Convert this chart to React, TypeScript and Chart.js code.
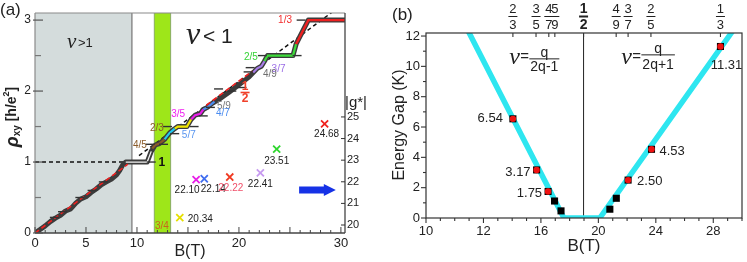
import React, { useEffect, useRef } from "react";
import { Chart, registerables } from "chart.js";

Chart.register(...registerables);

// ================= Panel (a): rho_xy vs B =================
const traceB = [0, 0.5, 1, 1.5, 2, 2.5, 3, 3.5, 4, 4.5, 5, 5.5, 6, 6.5, 7, 7.5, 8, 8.3, 8.6, 8.9, 11.0, 11.4, 11.8, 12.2, 12.7, 13.2, 13.7, 14.0, 14.9, 15.3, 15.7, 16.2, 16.5, 16.9, 17.3, 18.0, 19.0, 20.0, 21.0, 21.4, 21.8, 22.2, 22.5, 22.8, 25.3, 25.6, 26.8, 30.4];
const traceRho = [0, 0.05, 0.1, 0.16, 0.21, 0.25, 0.31, 0.34, 0.42, 0.48, 0.51, 0.57, 0.62, 0.68, 0.72, 0.76, 0.82, 0.88, 0.96, 1.0, 1.0, 1.15, 1.24, 1.26, 1.32, 1.41, 1.47, 1.5, 1.5, 1.6, 1.66, 1.68, 1.74, 1.77, 1.82, 1.88, 1.98, 2.09, 2.2, 2.26, 2.32, 2.35, 2.42, 2.5, 2.5, 2.66, 3.0, 3.0];

const seg1B = [8.9, 11.0, 11.4];
const seg1R = [1.0, 1.0, 1.15];
const seg45B = [11.5, 11.8, 12.2, 12.7];
const seg45R = [1.19, 1.24, 1.26, 1.32];
const seg57B = [12.7, 13.2, 13.7];
const seg57R = [1.32, 1.41, 1.47];
const seg23B = [13.7, 14.0, 14.9, 15.3];
const seg23R = [1.47, 1.5, 1.5, 1.6];
const seg35B = [15.3, 15.7, 16.2, 16.5];
const seg35R = [1.6, 1.66, 1.68, 1.74];
const seg47B = [16.5, 16.9, 17.6];
const seg47R = [1.74, 1.77, 1.85];
const seg37B = [21.4, 21.8, 22.2, 22.5];
const seg37R = [2.26, 2.32, 2.35, 2.42];
const seg25B = [22.5, 22.8, 25.3, 25.6];
const seg25R = [2.42, 2.5, 2.5, 2.66];
const seg13B = [25.6, 26.8, 30.4];
const seg13R = [2.66, 3.0, 3.0];

const classicB = [10.2, 29.4];
const classicRho = [1.09, 3.14];
const halfDashB = [16.8, 21.3];
const halfDashRho = [1.8, 2.28];
const lowDashB = [0, 9.1];
const lowDashRho = [0, 0.97];
const unityB = [0, 9.2];
const unityRho = [1, 1];

const markB = [1.9, 2.7, 4.4, 5.6, 6.7, 11.4, 11.3, 12.6, 13.7, 13.0, 15.6, 16.5, 17.2, 18.0, 19.3, 20.3, 20.9, 21.1, 22.3, 25.7, 26.1];
const markRho = [0.22, 0.3, 0.5, 0.6, 0.72, 1.0, 1.25, 1.25, 1.4, 1.5, 1.5, 1.65, 1.77, 2.03, 2.0, 2.05, 2.27, 2.33, 2.5, 2.5, 3.0];

const gB = [14.2, 15.8, 16.6, 19.1, 22.1, 23.7, 28.4];
const gVal = [20.34, 22.10, 22.14, 22.22, 22.41, 23.51, 24.68];
const gLabels = ["20.34", "22.10", "22.14", "22.22", "22.41", "23.51", "24.68"];
const gColors = ["#e6e000", "#e81ee8", "#3f6df0", "#f03a22", "#c79af0", "#2ed62e", "#f0221e"];

const arrowB = [25.9, 29.5];
const arrowG = 21.62;

const nuGt1Region = [0, 9.5];
const greenBand = [11.7, 13.3];

const xTicksA = [0, 5, 10, 20, 30];
const yTicksA = [0, 1, 2, 3];
const y2TicksA = [20, 21, 22, 23, 24, 25];

// ================= Panel (b): energy gap vs B =================
const gapB = [14.05, 15.7, 16.5, 16.95, 17.4, 20.8, 21.25, 22.07, 23.7, 28.5];
const gapE = [6.54, 3.17, 1.75, 1.12, 0.47, 0.58, 1.3, 2.5, 4.53, 11.31];
const labeledB = [14.05, 15.7, 16.5, 22.07, 23.7, 28.5];
const labeledE = [6.54, 3.17, 1.75, 2.5, 4.53, 11.31];
const gapLabels = ["6.54", "3.17", "1.75", "2.50", "4.53", "11.31"];
const fitB = [10.9, 17.6, 20.1, 29.4];
const fitE = [12.4, 0, 0, 12.4];
const halfB = 18.97;
const fracB = [14.05, 15.66, 16.55, 16.97, 18.97, 21.24, 22.07, 23.66, 28.5];
const fracNum = ["2", "3", "4", "5", "1", "4", "3", "2", "1"];
const fracDen = ["3", "5", "7", "9", "2", "9", "7", "5", "3"];
const xTickValsB = [8, 12, 16, 20, 24, 28];
const xTickLabelsB = ["10", "12", "16", "20", "24", "28"];
const yTicksB = [0, 2, 4, 6, 8, 10, 12];

// ================= helpers =================
const SANS = '"Liberation Sans", Arial, Helvetica, sans-serif';
const SERIF = '"Liberation Serif", "Times New Roman", serif';
type Ctx = CanvasRenderingContext2D;

const pts = (xs: number[], ys: number[]) => xs.map((x, i) => ({ x, y: ys[i] }));

function text(ctx: Ctx, s: string, x: number, y: number, font: string, color: string, align: CanvasTextAlign = "center", base: CanvasTextBaseline = "middle") {
  ctx.font = font;
  ctx.fillStyle = color;
  ctx.textAlign = align;
  ctx.textBaseline = base;
  ctx.fillText(s, x, y);
}
function seg(ctx: Ctx, x1: number, y1: number, x2: number, y2: number, color: string, w: number) {
  ctx.beginPath();
  ctx.strokeStyle = color;
  ctx.lineWidth = w;
  ctx.moveTo(x1, y1);
  ctx.lineTo(x2, y2);
  ctx.stroke();
}
const lineDs = (xs: number[], ys: number[], color: string, width: number, order: number, extra: any = {}) => ({
  data: pts(xs, ys),
  borderColor: color,
  borderWidth: width,
  pointRadius: 0,
  fill: false,
  tension: 0,
  order,
  ...extra,
});

// fraction labels on panel (a): [text, B, rho, color, align]
const fracLabelsA: [string, number, number, string, CanvasTextAlign][] = [
  ["1/3", 25.2, 3.0, "#f22e2e", "right"],
  ["2/5", 21.86, 2.48, "#36d336", "right"],
  ["3/7", 23.2, 2.31, "#9b6ee6", "left"],
  ["4/9", 22.35, 2.24, "#6e6e6e", "left"],
  ["5/9", 17.85, 1.79, "#777777", "left"],
  ["4/7", 17.75, 1.69, "#4b8cf0", "left"],
  ["3/5", 13.35, 1.676, "#f01ef0", "left"],
  ["2/3", 11.27, 1.48, "#8a5a28", "left"],
  ["5/7", 14.4, 1.38, "#5a96f0", "left"],
  ["4/5", 9.6, 1.24, "#8a5a28", "left"],
  ["3/4", 11.76, 0.1, "#c8641e", "left"],
];

const panelAPlugin = {
  id: "panelA",
  beforeDatasetsDraw(chart: any) {
    const { ctx, chartArea: a, scales } = chart;
    const sx = scales.x;
    ctx.save();
    const g0 = sx.getPixelForValue(nuGt1Region[0]);
    const g1 = sx.getPixelForValue(nuGt1Region[1]);
    ctx.fillStyle = "#d4dcdc";
    ctx.fillRect(g0, a.top, g1 - g0, a.bottom - a.top);
    seg(ctx, g1, a.top, g1, a.bottom, "#8c8c8c", 1.5);
    const b0 = sx.getPixelForValue(greenBand[0]);
    const b1 = sx.getPixelForValue(greenBand[1]);
    ctx.fillStyle = "#9ee619";
    ctx.fillRect(b0, a.top, b1 - b0, a.bottom - a.top);
    seg(ctx, b0, a.top, b0, a.bottom, "#7a9a60", 0.8);
    seg(ctx, b1, a.top, b1, a.bottom, "#7a9a60", 0.8);
    ctx.restore();
  },
  afterDraw(chart: any) {
    const { ctx, chartArea: a, scales } = chart;
    const sx = scales.x, sy = scales.y, sy2 = scales.y2;
    ctx.save();
    // frame
    seg(ctx, a.left, a.top, a.right, a.top, "#8a8a8a", 1.2);
    seg(ctx, a.left, a.top, a.left, a.bottom, "#8a8a8a", 1.2);
    seg(ctx, a.left, a.bottom, a.right, a.bottom, "#444", 1.3);
    seg(ctx, a.right, a.top, a.right, a.bottom, "#444", 1.3);
    // x ticks
    for (let v = 0; v <= 30; v++) {
      const px = sx.getPixelForValue(v);
      const major = v % 5 === 0;
      seg(ctx, px, a.bottom, px, a.bottom - (major ? 6 : 3), "#444", 1);
    }
    xTicksA.forEach((v) => text(ctx, String(v), sx.getPixelForValue(v), a.bottom + 10, `13px ${SANS}`, "#222"));
    // y ticks
    yTicksA.forEach((v) => {
      const py = sy.getPixelForValue(v);
      seg(ctx, a.left - 2, py, a.left + 8, py, "#555", 1.2);
      text(ctx, String(v), a.left - 4, py, `12px ${SANS}`, "#222", "right");
    });
    [0.5, 1.5, 2.5].forEach((v) => {
      const py = sy.getPixelForValue(v);
      seg(ctx, a.left, py, a.left + 6, py, "#777", 1.2);
    });
    // y2 ticks
    y2TicksA.forEach((v) => {
      const py = sy2.getPixelForValue(v);
      seg(ctx, a.right - 4, py, a.right, py, "#333", 1);
      text(ctx, String(v), a.right + 2, py, `11px ${SANS}`, "#222", "left");
    });
    text(ctx, "|g*|", a.right, 103, `15px ${SANS}`, "#222", "left");
    // axis titles
    text(ctx, "B(T)", (a.left + a.right) / 2, 252, `16px ${SANS}`, "#222");
    ctx.save();
    ctx.translate(12, 117);
    ctx.rotate(-Math.PI / 2);
    const f1 = `bold italic 18px ${SANS}`, f2 = `bold 10px ${SANS}`, f3 = `bold 14px ${SANS}`, f4 = `bold 9px ${SANS}`;
    ctx.font = f1; const w1 = ctx.measureText("\u03c1").width;
    ctx.font = f2; const w2 = ctx.measureText("xy").width;
    ctx.font = f3; const w3 = ctx.measureText(" [h/e").width;
    ctx.font = f4; const w4 = ctx.measureText("2").width;
    ctx.font = f3; const w5 = ctx.measureText("]").width;
    let cx = -(w1 + w2 + w3 + w4 + w5) / 2;
    text(ctx, "\u03c1", cx, 1, f1, "#222", "left", "middle"); cx += w1;
    text(ctx, "xy", cx, 5, f2, "#222", "left", "middle"); cx += w2;
    text(ctx, " [h/e", cx, 0, f3, "#222", "left", "middle"); cx += w3;
    text(ctx, "2", cx, -5, f4, "#222", "left", "middle"); cx += w4;
    text(ctx, "]", cx, 0, f3, "#222", "left", "middle");
    ctx.restore();
    // panel label
    text(ctx, "(a)", 0, 10, `17px ${SANS}`, "#222", "left");
    // nu labels
    const nx1 = sx.getPixelForValue(3.14), ny1 = sy.getPixelForValue(2.69);
    text(ctx, "\u03bd", nx1, ny1, `italic 21px ${SERIF}`, "#222", "left");
    text(ctx, ">1", nx1 + 11, ny1 + 1, `13px ${SANS}`, "#222", "left");
    const nx2 = sx.getPixelForValue(14.8), ny2 = sy.getPixelForValue(2.76);
    text(ctx, "\u03bd", nx2, ny2 - 2, `italic 32px ${SERIF}`, "#222", "left");
    text(ctx, "< 1", nx2 + 17, ny2, `21px ${SANS}`, "#222", "left");
    // fraction labels
    fracLabelsA.forEach(([t, b, r, c, al]) => {
      text(ctx, t, sx.getPixelForValue(b), sy.getPixelForValue(r), `10px ${SANS}`, c, al);
    });
    // "1" plateau label
    text(ctx, "1", sx.getPixelForValue(12.45), sy.getPixelForValue(0.99), `bold 12px ${SANS}`, "#111");
    // stacked 1/2
    const hx = sx.getPixelForValue(20.6), hy = sy.getPixelForValue(1.98);
    text(ctx, "1", hx, hy - 5.5, `bold 12px ${SANS}`, "#f0402a");
    seg(ctx, hx - 4.5, hy, hx + 4.5, hy, "#f0402a", 1.6);
    text(ctx, "2", hx, hy + 6.5, `bold 12px ${SANS}`, "#f0402a");
    // g* labels
    const gdx = [8, -9, 9, 1, 0, 0, 2];
    const gdy = [2, 11, 10, 11, 11, 12, 10];
    const gal: CanvasTextAlign[] = ["left", "center", "center", "center", "center", "center", "center"];
    gB.forEach((b, i) => {
      const px = sx.getPixelForValue(b), py = sy2.getPixelForValue(gVal[i]);
      text(ctx, gLabels[i], px + gdx[i], py + gdy[i], `10px ${SANS}`, i === 3 ? "#f0506a" : "#222", gal[i]);
    });
    // blue arrow
    const ax0 = sx.getPixelForValue(arrowB[0]), ax1 = sx.getPixelForValue(arrowB[1]);
    const ay = sy2.getPixelForValue(arrowG);
    ctx.fillStyle = "#1632e6";
    ctx.beginPath();
    ctx.moveTo(ax0, ay - 3.5);
    ctx.lineTo(ax1 - 12, ay - 3.5);
    ctx.lineTo(ax1 - 12, ay - 6);
    ctx.lineTo(ax1, ay);
    ctx.lineTo(ax1 - 12, ay + 6);
    ctx.lineTo(ax1 - 12, ay + 3.5);
    ctx.lineTo(ax0, ay + 3.5);
    ctx.closePath();
    ctx.fill();
    ctx.restore();
  },
};

const panelBPlugin = {
  id: "panelB",
  afterDraw(chart: any) {
    const { ctx, chartArea: a, scales } = chart;
    const sx = scales.x, sy = scales.y;
    ctx.save();
    ctx.strokeStyle = "#333";
    ctx.lineWidth = 1.2;
    ctx.strokeRect(a.left, a.top, a.right - a.left, a.bottom - a.top);
    // y ticks
    for (let v = 0; v <= 12; v++) {
      const py = sy.getPixelForValue(v);
      const len = v % 2 === 0 ? 5 : 3;
      seg(ctx, a.left - len, py, a.left, py, "#333", 1.1);
    }
    yTicksB.forEach((v) => text(ctx, String(v), a.left - 6, sy.getPixelForValue(v), `13px ${SANS}`, "#222", "right"));
    // x ticks
    for (let v = 8; v <= 30; v++) {
      const px = sx.getPixelForValue(v);
      const major = xTickValsB.indexOf(v) >= 0;
      seg(ctx, px, a.bottom, px, a.bottom + (major ? 5 : 3), "#333", 1.1);
    }
    xTickValsB.forEach((v, i) => text(ctx, xTickLabelsB[i], sx.getPixelForValue(v), a.bottom + 13, `13px ${SANS}`, "#222"));
    // titles
    text(ctx, "B(T)", (a.left + a.right) / 2, 246, `17px ${SANS}`, "#222");
    ctx.save();
    ctx.translate(25, 125);
    ctx.rotate(-Math.PI / 2);
    text(ctx, "Energy Gap (K)", 0, 0, `16px ${SANS}`, "#222");
    ctx.restore();
    text(ctx, "(b)", 17, 15, `17px ${SANS}`, "#222", "left");
    // top fraction axis
    fracB.forEach((b, i) => {
      const px = sx.getPixelForValue(b);
      seg(ctx, px, a.top, px, a.top + 4, "#333", 1.1);
      const bold = i === 4;
      const f = bold ? `bold 14px ${SANS}` : `13px ${SANS}`;
      text(ctx, fracNum[i], px, 9, f, "#222");
      seg(ctx, px - 4.5, 16.5, px + 4.5, 16.5, "#222", bold ? 2 : 1);
      text(ctx, fracDen[i], px, 25, f, "#222");
    });
    // formulas
    const drawNu = (b: number, e: number, den: string, numDy: number, barDy: number, denDy: number) => {
      const px = sx.getPixelForValue(b), py = sy.getPixelForValue(e);
      text(ctx, "\u03bd", px, py, `italic 24px ${SERIF}`, "#222", "left");
      text(ctx, "=", px + 11, py - 1, `15px ${SANS}`, "#222", "left");
      ctx.font = `14px ${SANS}`;
      const w = ctx.measureText(den).width;
      const fx = px + 21 + w / 2;
      text(ctx, "q", fx, py + numDy, `14px ${SANS}`, "#222");
      seg(ctx, fx - w / 2 - 1, py + barDy, fx + w / 2 + 1, py + barDy, "#222", 1);
      text(ctx, den, fx, py + denDy, `14px ${SANS}`, "#222");
    };
    drawNu(13.8, 10.56, "2q-1", -5, 1, 9);
    drawNu(21.6, 10.56, "2q+1", -9, -3, 7);
    // gap value labels
    const ldx = [-10, -6, -6, 9, 8, 6];
    const ldy = [0, 2, 2, 1, 2, 19];
    const lal: CanvasTextAlign[] = ["right", "right", "right", "left", "left", "center"];
    labeledB.forEach((b, i) => {
      const px = sx.getPixelForValue(b), py = sy.getPixelForValue(labeledE[i]);
      text(ctx, gapLabels[i], px + ldx[i], py + ldy[i], `13px ${SANS}`, "#222", lal[i]);
    });
    ctx.restore();
  },
};

function PanelA() {
  const ref = useRef<HTMLCanvasElement>(null);
  useEffect(() => {
    if (!ref.current) return;
    const chart = new Chart(ref.current, {
      type: "line",
      data: {
        datasets: [
          lineDs(classicB, classicRho, "#111", 1.5, 20, { borderDash: [4, 3] }),
          lineDs(unityB, unityRho, "#111", 1.5, 20, { borderDash: [4, 3] }),
          lineDs(traceB, traceRho, "#3c3c3c", 5, 15, { borderJoinStyle: "round", borderCapStyle: "round" }),
          lineDs(seg1B, seg1R, "#f4f4f4", 1.3, 12),
          lineDs(seg45B, seg45R, "#8a5a28", 2.2, 10),
          lineDs(seg57B, seg57R, "#22c8f0", 2.2, 10),
          lineDs(seg23B, seg23R, "#f0e400", 2.2, 10),
          lineDs(seg35B, seg35R, "#e81ee8", 2.2, 10),
          lineDs(seg47B, seg47R, "#4b8cf0", 2.2, 10),
          lineDs(seg37B, seg37R, "#a77de8", 2.2, 10),
          lineDs(seg25B, seg25R, "#3ddc3a", 2.2, 10),
          lineDs(seg13B, seg13R, "#ee2020", 2.4, 10),
          lineDs(lowDashB, lowDashRho, "#ee2020", 1.6, 8, { borderDash: [5, 3] }),
          lineDs(halfDashB, halfDashRho, "#ee2020", 1.6, 8, { borderDash: [5, 3] }),
          {
            data: pts(markB, markRho),
            showLine: false,
            pointStyle: "line",
            pointRadius: 4.5,
            pointBorderWidth: 1.4,
            pointBorderColor: "#333",
            order: 6,
          },
          {
            data: pts(gB, gVal),
            yAxisID: "y2",
            showLine: false,
            pointStyle: "crossRot",
            pointRadius: 5,
            pointBorderWidth: 1.8,
            pointBorderColor: gColors,
            order: 4,
          },
        ] as any,
      },
      options: {
        animation: false,
        responsive: false,
        devicePixelRatio: 1,
        layout: { padding: { top: 13, left: 0, right: 0, bottom: 0 } },
        plugins: { legend: { display: false }, tooltip: { enabled: false } },
        scales: {
          x: {
            type: "linear", min: 0, max: 30.4,
            grid: { display: false }, border: { display: false }, ticks: { display: false },
            afterFit: (s: any) => { s.height = 29; },
          },
          y: {
            type: "linear", min: 0, max: 3.1, position: "left",
            grid: { display: false }, border: { display: false }, ticks: { display: false },
            afterFit: (s: any) => { s.width = 35; },
          },
          y2: {
            type: "linear", min: 19.63, max: 29.81, position: "right",
            grid: { display: false }, border: { display: false }, ticks: { display: false },
            afterFit: (s: any) => { s.width = 30; },
          },
        },
      } as any,
      plugins: [panelAPlugin],
    });
    return () => chart.destroy();
  }, []);
  return <canvas ref={ref} width={375} height={262} style={{ position: "absolute", left: 0, top: 0, width: 375, height: 262 }} />;
}

function PanelB() {
  const ref = useRef<HTMLCanvasElement>(null);
  useEffect(() => {
    if (!ref.current) return;
    const chart = new Chart(ref.current, {
      type: "line",
      data: {
        datasets: [
          {
            data: pts(labeledB, labeledE),
            showLine: false,
            pointStyle: "circle",
            pointRadius: 3.2,
            pointBorderWidth: 0,
            pointBackgroundColor: "#ee1111",
            order: 0,
          },
          {
            data: pts(gapB, gapE),
            showLine: false,
            pointStyle: "rect",
            pointRadius: 5,
            pointBorderWidth: 0,
            pointBackgroundColor: "#000",
            order: 1,
          },
          lineDs(fitB, fitE, "#2ee6f0", 5.5, 2, { borderJoinStyle: "round" }),
          lineDs([halfB, halfB], [0, 12.2], "#222", 1, 3),
        ] as any,
      },
      options: {
        animation: false,
        responsive: false,
        devicePixelRatio: 1,
        layout: { padding: { top: 33, left: 0, right: 2, bottom: 0 } },
        plugins: { legend: { display: false }, tooltip: { enabled: false } },
        scales: {
          x: {
            type: "linear", min: 8, max: 30,
            grid: { display: false }, border: { display: false }, ticks: { display: false },
            afterFit: (s: any) => { s.height = 44; },
          },
          y: {
            type: "linear", min: 0, max: 12.2,
            grid: { display: false }, border: { display: false }, ticks: { display: false },
            afterFit: (s: any) => { s.width = 51; },
          },
        },
      } as any,
      plugins: [panelBPlugin],
    });
    return () => chart.destroy();
  }, []);
  return <canvas ref={ref} width={372} height={262} style={{ position: "absolute", left: 375, top: 0, width: 372, height: 262 }} />;
}

export default function App() {
  return (
    <div style={{ position: "fixed", left: 0, top: 0, width: 747, height: 262, background: "#fff", overflow: "hidden" }}>
      <PanelA />
      <PanelB />
    </div>
  );
}
